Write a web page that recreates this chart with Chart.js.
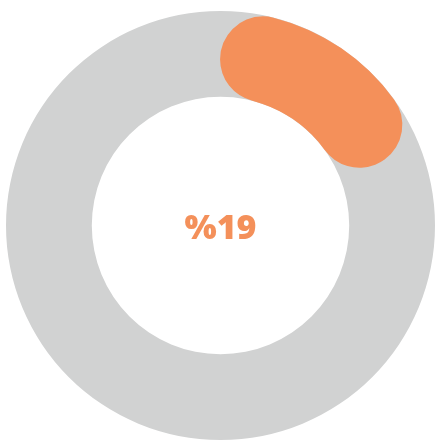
<!DOCTYPE html>
<html>
<head>
<meta charset="utf-8">
<script src="https://cdn.jsdelivr.net/npm/chart.js@4"></script>
<style>
  html, body { margin: 0; padding: 0; background: #fff; }
  #wrap { position: relative; width: 435px; height: 441px; }
  #wrap canvas { position: absolute; left: 0; top: 0; }
  #label {
    position: absolute; left: 6px; top: 10px; width: 429px; height: 431px;
    display: flex; align-items: center; justify-content: center;
    font-family: "Open Sans", sans-serif; font-weight: 800; font-size: 34px;
    color: #f4905a; letter-spacing: 0px;
  }
</style>
</head>
<body>
<div id="wrap">
  <canvas id="ringBack" width="435" height="441"></canvas>
  <canvas id="ringValue" width="435" height="441"></canvas>
  <div id="label"></div>
</div>
<script>
// valeurs du graphique
const labels = ['Valeur', 'Reste'];
const percentValue = [19];
const totalValue = [100];
const valueText = ['%19'];

const grayColor = '#d1d2d2';
const orangeColor = '#f4905a';

// options communes aux deux anneaux
function ringOptions() {
    return {
        responsive: false,
        animation: false,
        cutout: '60%',
        events: [],
        layout: { padding: { left: 6, top: 10, right: 0, bottom: 0 } },
        plugins: { legend: { display: false }, tooltip: { enabled: false } }
    };
}

// anneau gris de fond (le total)
new Chart(document.getElementById('ringBack').getContext('2d'), {
    type: 'doughnut',
    data: {
        labels: ['Total'],
        datasets: [{ data: totalValue, backgroundColor: [grayColor], borderWidth: 0 }]
    },
    options: ringOptions()
});

// arc orange avec bouts arrondis
new Chart(document.getElementById('ringValue').getContext('2d'), {
    type: 'doughnut',
    data: {
        labels: labels,
        datasets: [{
            data: [percentValue[0], totalValue[0] - percentValue[0]],
            backgroundColor: [orangeColor, 'rgba(0,0,0,0)'],
            borderWidth: 0,
            borderRadius: 60
        }]
    },
    options: ringOptions()
});

document.getElementById('label').textContent = valueText[0];
</script>
</body>
</html>
